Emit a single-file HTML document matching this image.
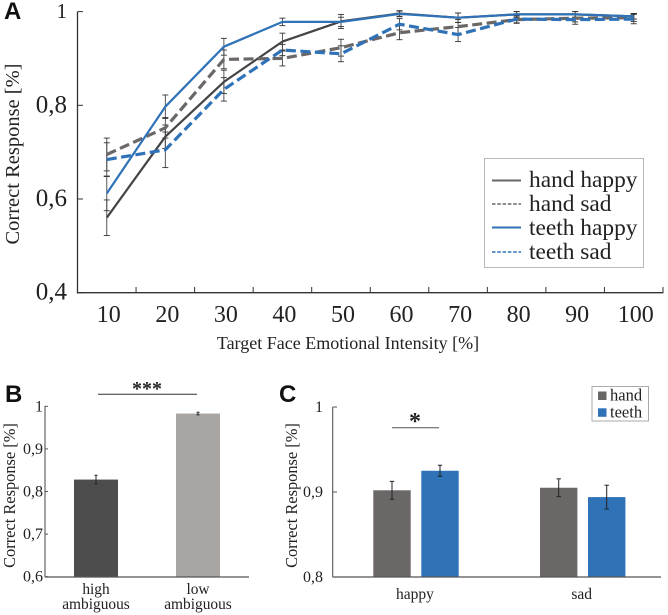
<!DOCTYPE html>
<html lang="en">
<head>
<meta charset="utf-8">
<title>Correct response charts</title>
<style>
html,body{margin:0;padding:0;background:#fff;width:668px;height:615px;overflow:hidden}
svg{display:block;filter:blur(0.35px)}
text{font-family:"Liberation Serif",serif;fill:#222}
.panel{font-family:"Liberation Sans",sans-serif;font-weight:700;font-size:24px;fill:#111}
</style>
</head>
<body>
<svg id="fig" width="668" height="615" viewBox="0 0 668 615" xmlns="http://www.w3.org/2000/svg"></svg>
<script>
// Panel A data
const intensityLabels = ['10','20','30','40','50','60','70','80','90','100'];
const yTicksA = [0.4,0.6,0.8,1];
const yTickLabelsA = ['0,4','0,6','0,8','1'];
const handHappy = [0.56,0.733,0.85,0.936,0.979,0.996,0.987,0.994,0.994,0.99];
const handSad = [0.695,0.752,0.898,0.9,0.923,0.955,0.968,0.983,0.986,0.987];
const teethHappy = [0.612,0.797,0.925,0.978,0.978,0.995,0.987,0.994,0.994,0.99];
const teethSad = [0.684,0.705,0.834,0.918,0.91,0.973,0.951,0.984,0.983,0.984];
const handHappyErr = [0.038,0.025,0.025,0.018,0.015,0.006,0.01,0.006,0.006,0.006];
const handSadErr = [0.035,0.022,0.02,0.016,0.018,0.015,0.015,0.008,0.008,0.008];
const teethHappyErr = [0.037,0.025,0.018,0.008,0.01,0.006,0.01,0.006,0.006,0.006];
const teethSadErr = [0.036,0.038,0.025,0.012,0.017,0.012,0.015,0.008,0.01,0.01];
const legendLabelsA = ['hand happy','hand sad','teeth happy','teeth sad'];

// Panel B data
const ambiguityLabels = [['high','ambiguous'],['low','ambiguous']];
const ambiguityValues = [0.828,0.983];
const ambiguityErr = [0.01,0.003];
const yTicksB = [0.6,0.7,0.8,0.9,1];
const yTickLabelsB = ['0,6','0,7','0,8','0,9','1'];

// Panel C data
const emotionLabels = ['happy','sad'];
const handValues = [0.902,0.905];
const teethValues = [0.925,0.894];
const handErr = [0.0105,0.0105];
const teethErr = [0.0065,0.014];
const yTicksC = [0.8,0.9,1];
const yTickLabelsC = ['0,8','0,9','1'];
const legendLabelsC = ['hand','teeth'];

const svg = document.getElementById('fig');
const NS = 'http://www.w3.org/2000/svg';
function mk(tag, attrs, txt){
  const el = document.createElementNS(NS, tag);
  for (const k in attrs) el.setAttribute(k, attrs[k]);
  if (txt !== undefined) el.textContent = txt;
  svg.appendChild(el);
  return el;
}
function line(x1,y1,x2,y2,stroke,w){
  return mk('line',{x1:x1,y1:y1,x2:x2,y2:y2,stroke:stroke,'stroke-width':w});
}
function tag(el,name,active){
  
  
  return el;
}
const AXIS = '#333';
const DARK = '#444444', GREY = '#6b6766', BLUE = '#2f72b7';

/* ---------- Panel A ---------- */
const xA = i => 77.5 + (i + 0.5) * 58.55;
const yA = v => 292.7 - (v - 0.4) * 468.5;

tag(mk('text',{x:4,y:19,class:'panel'},'A'),'panel-a-label');
tag(line(77.5,11.7,77.5,293.5,AXIS,1.3),'panel-a-y-axis');
tag(line(77,292.7,663.5,292.7,AXIS,1.3),'panel-a-x-axis');

for (let i = 0; i < yTicksA.length; i++) {
  const y = yA(yTicksA[i]);
  tag(line(77.5,y,83,y,AXIS,1),'panel-a-y-tick');
  tag(mk('text',{x:67,y:i===3?18:y+7,'text-anchor':'end','font-size':i===3?21:25},yTickLabelsA[i]),'panel-a-y-tick-label');
}
for (let i = 0; i < intensityLabels.length; i++) {
  const bx = 77.5 + (i + 1) * 58.55;
  tag(line(bx,292.7,bx,287,AXIS,1),'panel-a-x-tick');
  tag(mk('text',{x:xA(i)+2,y:322,'text-anchor':'middle','font-size':24},intensityLabels[i]),'panel-a-x-tick-label');
}
tag(mk('text',{x:348,y:349,'text-anchor':'middle','font-size':18,fill:'#333'},'Target Face Emotional Intensity [%]'),'panel-a-x-axis-title');
tag(mk('text',{transform:'translate(19,154) rotate(-90)','text-anchor':'middle','font-size':20.5},'Correct Response [%]'),'panel-a-y-axis-title');

const seriesA = [
  {name:'hand-happy',vals:handHappy,errs:handHappyErr,color:DARK,w:2.2,dash:null},
  {name:'hand-sad',vals:handSad,errs:handSadErr,color:GREY,w:3.2,dash:'10 4.5'},
  {name:'teeth-happy',vals:teethHappy,errs:teethHappyErr,color:BLUE,w:2.2,dash:null},
  {name:'teeth-sad',vals:teethSad,errs:teethSadErr,color:BLUE,w:3.2,dash:'10 4.5'}
];
seriesA.forEach(s => {
  s.vals.forEach((v,i) => {
    const x = xA(i), t = yA(v + s.errs[i]), b = yA(v - s.errs[i]);
    tag(line(x,t,x,b,'#444',0.9),'error-bar-' + s.name);
    tag(line(x-3,t,x+3,t,'#333',0.9),'error-cap-' + s.name);
    tag(line(x-3,b,x+3,b,'#333',0.9),'error-cap-' + s.name);
  });
});
seriesA.forEach(s => {
  const pts = s.vals.map((v,i) => xA(i).toFixed(1) + ',' + yA(v).toFixed(1)).join(' ');
  const attrs = {points:pts,fill:'none',stroke:s.color,'stroke-width':s.w,'stroke-linejoin':'round'};
  if (s.dash) attrs['stroke-dasharray'] = s.dash;
  tag(mk('polyline',attrs),'line-' + s.name);
});

tag(mk('rect',{x:484.5,y:158.5,width:159,height:109,fill:'#fff',stroke:'#b9b9b9','stroke-width':1}),'panel-a-legend-box');
seriesA.forEach((s,i) => {
  const ly = [180.5,204,227.5,252][i];
  const attrs = {x1:492,y1:ly,x2:521,y2:ly,stroke:i<2?'#6b6766':BLUE,'stroke-width':s.dash?1.5:2};
  if (s.dash) attrs['stroke-dasharray'] = '3.5 1.8';
  tag(mk('line',attrs),'legend-swatch-' + s.name);
  tag(mk('text',{x:529,y:[187,211,235,259][i],'font-size':23.4},legendLabelsA[i]),'legend-entry-' + s.name);
});

/* ---------- Panel B ---------- */
const yB = v => 576.7 - (v - 0.6) * 426;
const xB = i => 96 + i * 102;
tag(mk('text',{x:5,y:402,class:'panel'},'B'),'panel-b-label');
ambiguityValues.forEach((v,i) => {
  tag(mk('rect',{x:xB(i)-22,y:yB(v),width:44,height:yB(0.6)-yB(v),fill:i===0?'#4d4d4d':'#a9a5a3'}),'bar-' + ambiguityLabels[i][0] + '-ambiguous');
  const t = yB(v + ambiguityErr[i]), b = yB(v - ambiguityErr[i]);
  tag(line(xB(i),t,xB(i),b,'#222',1),'error-bar-b');
  tag(line(xB(i)-1.5,t,xB(i)+1.5,t,'#222',1),'error-cap-b');
  tag(line(xB(i)-1.5,b,xB(i)+1.5,b,'#222',1),'error-cap-b');
  tag(mk('text',{x:xB(i),y:594,'text-anchor':'middle','font-size':15.4},ambiguityLabels[i][0]),'panel-b-category-label');
  tag(mk('text',{x:xB(i),y:609,'text-anchor':'middle','font-size':15.4},ambiguityLabels[i][1]),'panel-b-category-label');
});
tag(line(45,406,45,577,'#555',1.1),'panel-b-y-axis');
tag(line(45,577,249,577,'#555',1.3),'panel-b-x-axis');
yTicksB.forEach((t,i) => {
  tag(line(45,yB(t),48,yB(t),'#555',1),'panel-b-y-tick');
  tag(mk('text',{x:43,y:yB(t)+5,'text-anchor':'end','font-size':16},yTickLabelsB[i]),'panel-b-y-tick-label');
});
tag(mk('text',{transform:'translate(15,495.5) rotate(-90)','text-anchor':'middle','font-size':16.4},'Correct Response [%]'),'panel-b-y-axis-title');
tag(line(98,394.3,197,394.3,'#333',1),'panel-b-significance-line');
tag(mk('text',{x:147,y:395,'text-anchor':'middle','font-size':20,'font-weight':700,'font-family':'Liberation Sans'},'***'),'panel-b-significance-stars');

/* ---------- Panel C ---------- */
const yC = v => 577 - (v - 0.8) * 850;
const xC = i => 392 + i * 166.7;
tag(mk('text',{x:279,y:402,class:'panel'},'C'),'panel-c-label');
emotionLabels.forEach((lab,i) => {
  const groups = [
    {n:'hand',v:handValues[i],e:handErr[i],c:'#6b6766',x:xC(i)},
    {n:'teeth',v:teethValues[i],e:teethErr[i],c:BLUE,x:xC(i)+48}
  ];
  groups.forEach(g => {
    tag(mk('rect',{x:g.x-18.7,y:yC(g.v),width:37.4,height:yC(0.8)-yC(g.v),fill:g.c}),'bar-' + lab + '-' + g.n);
    const t = yC(g.v + g.e), b = yC(g.v - g.e);
    tag(line(g.x,t,g.x,b,'#222',1),'error-bar-c');
    tag(line(g.x-2.2,t,g.x+2.2,t,'#222',1),'error-cap-c');
    tag(line(g.x-2.2,b,g.x+2.2,b,'#222',1),'error-cap-c');
  });
  tag(mk('text',{x:xC(i)+23,y:599,'text-anchor':'middle','font-size':15.5},lab),'panel-c-category-label');
});
tag(line(332.7,407,332.7,577,'#555',1.1),'panel-c-y-axis');
tag(line(332.7,577,661,577,'#555',1.3),'panel-c-x-axis');
yTicksC.forEach((t,i) => {
  tag(line(332.7,yC(t),337,yC(t),'#555',1),'panel-c-y-tick');
  tag(mk('text',{x:323,y:yC(t)+5,'text-anchor':'end','font-size':16},yTickLabelsC[i]),'panel-c-y-tick-label');
});
tag(mk('text',{transform:'translate(297,495.5) rotate(-90)','text-anchor':'middle','font-size':16.4},'Correct Response [%]'),'panel-c-y-axis-title');
tag(line(392,427.7,439,427.7,'#555',1),'panel-c-significance-line');
tag(mk('text',{x:415,y:429,'text-anchor':'middle','font-size':24,'font-weight':700,'font-family':'Liberation Sans'},'*'),'panel-c-significance-star');
tag(mk('rect',{x:592,y:386.5,width:56.5,height:34.5,fill:'#fff',stroke:'#aaa','stroke-width':1}),'panel-c-legend-box');
legendLabelsC.forEach((lab,i) => {
  tag(mk('rect',{x:598,y:391.5+i*16.8,width:8.5,height:8.5,fill:i===0?'#6b6766':BLUE}),'legend-swatch-' + lab);
  tag(mk('text',{x:610,y:400.5+i*16.8,'font-size':16.5},lab),'legend-entry-' + lab);
});
</script>
</body>
</html>
